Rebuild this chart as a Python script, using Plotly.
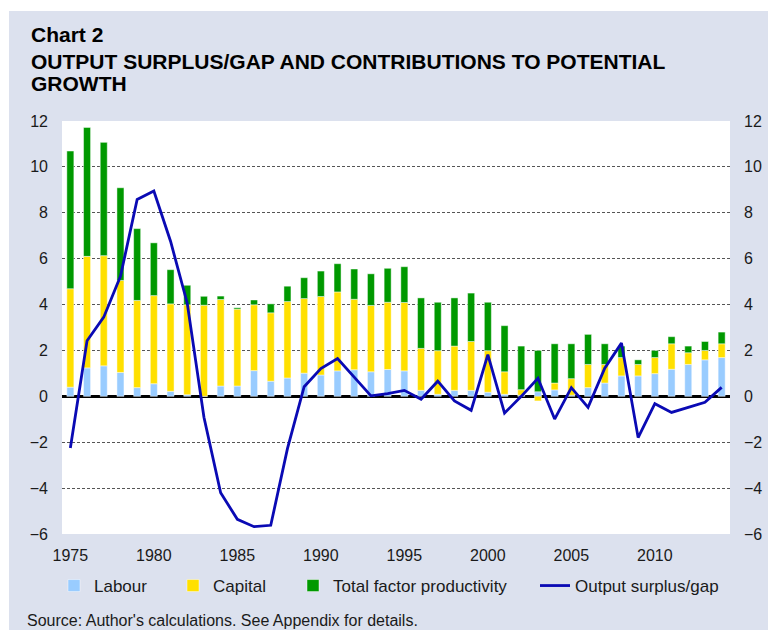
import plotly.graph_objects as go

years = list(range(1975, 2015))

labour = [0.40, 1.24, 1.33, 1.04, 0.38, 0.55, 0.22, 0.07, 0.00, 0.45,
          0.45, 1.12, 0.66, 0.80, 1.01, 0.93, 1.11, 1.16, 1.07, 1.17,
          1.11, 0.26, 0.09, 0.26, 0.26, 0.18, 0.09, 0.05, 0.20, 0.28,
          0.05, 0.38, 0.58, 0.89, 0.89, 0.99, 1.18, 1.39, 1.59, 1.69]

capital = [4.29, 4.86, 4.80, 4.01, 3.80, 3.84, 3.81, 3.92, 3.97, 3.77,
           3.35, 2.87, 2.98, 3.33, 3.25, 3.42, 3.44, 3.07, 2.89, 2.93,
           2.98, 1.83, 1.90, 1.93, 2.13, 1.81, 0.98, 0.24, -0.20, 0.30,
           0.72, 1.01, 0.81, 0.80, 0.50, 0.70, 1.11, 0.51, 0.41, 0.60]

tfp = [6.00, 5.62, 4.94, 4.04, 3.13, 2.30, 1.49, 0.85, 0.39, 0.15,
       0.06, 0.21, 0.39, 0.67, 0.91, 1.11, 1.23, 1.32, 1.38, 1.48,
       1.56, 2.20, 2.11, 2.10, 2.11, 2.11, 2.01, 1.90, 1.80, 1.71,
       1.52, 1.31, 0.90, 0.50, 0.20, 0.31, 0.31, 0.29, 0.39, 0.51]

output_gap = [-2.25, 2.42, 3.45, 5.23, 8.58, 8.95, 6.76, 4.06, -0.91, -4.20,
              -5.36, -5.68, -5.62, -2.28, 0.42, 1.21, 1.65, 0.85, 0.02, 0.12,
              0.26, -0.13, 0.66, -0.20, -0.61, 1.82, -0.73, 0.00, 0.79, -0.99,
              0.38, -0.48, 1.23, 2.32, -1.80, -0.32, -0.70, -0.48, -0.26, 0.39]

xticks = [1975, 1980, 1985, 1990, 1995, 2000, 2005, 2010]
yticks = [-6, -4, -2, 0, 2, 4, 6, 8, 10, 12]

FONT = "Liberation Sans, Arial, sans-serif"
BG = "#DCE1EE"
TXT = "#1a1a1a"

W, H = 776, 630
OFF = 8  # page body margin
L, R, T, B = 54, 54, 113, 104
PW, PH = W - L - R, H - T - B


def fx(px):
    """screen x (px) -> paper x"""
    return (px - OFF - L) / PW


def fy(py):
    """screen y (px) -> paper y"""
    return (H - B - (py - OFF)) / PH


fig = go.Figure()
fig.add_trace(go.Bar(x=years, y=labour, name="Labour", marker_color="#99CCFF",
                     marker_line=dict(color="rgba(255,255,255,0.45)", width=1),
                     legend="legend"))
fig.add_trace(go.Bar(x=years, y=capital, name="Capital", marker_color="#FFE000",
                     marker_line=dict(color="rgba(255,255,255,0.45)", width=1),
                     legend="legend2"))
fig.add_trace(go.Bar(x=years, y=tfp, name="Total factor productivity", marker_color="#009900",
                     marker_line=dict(color="rgba(255,255,255,0.45)", width=1),
                     legend="legend3"))
fig.add_trace(go.Scatter(x=years, y=output_gap, name="Output surplus/gap", mode="lines",
                         line=dict(color="#0A0AB4", width=2.8), legend="legend4"))
# invisible trace to activate right axis
fig.add_trace(go.Scatter(x=[years[0]], y=[0], yaxis="y2", showlegend=False,
                         mode="markers", marker=dict(opacity=0), hoverinfo="skip"))

axis_font = dict(family=FONT, size=16, color=TXT)

leg_common = dict(orientation="h", yanchor="middle", xanchor="left",
                  bgcolor="rgba(0,0,0,0)", font=dict(family=FONT, size=17, color=TXT),
                  y=fy(586))

title_font = dict(family=FONT, size=21, color="black")

fig.update_layout(
    width=W, height=H,
    margin=dict(l=L, r=R, t=T, b=B, pad=0),
    paper_bgcolor=BG,
    plot_bgcolor="white",
    barmode="relative",
    bargap=0.58,
    font=dict(family=FONT, size=16, color=TXT),
    xaxis=dict(range=[1974.5, 2014.5], tickvals=xticks, ticktext=[str(v) for v in xticks],
               showgrid=False, zeroline=False, showline=False, ticks="",
               tickfont=axis_font, ticklabelstandoff=10),
    yaxis=dict(range=[-6, 12], tickvals=yticks, showgrid=True, gridcolor="#555555",
               gridwidth=1, griddash="3px,2px", zeroline=True, zerolinecolor="black",
               zerolinewidth=3, showline=False, ticks="", tickfont=axis_font,
               ticklabelstandoff=13),
    yaxis2=dict(range=[-6, 12], tickvals=yticks, overlaying="y", side="right",
                showgrid=False, zeroline=False, showline=False, ticks="",
                tickfont=axis_font, ticklabelstandoff=13),
    showlegend=True,
    legend=dict(leg_common, x=fx(54)),
    legend2=dict(leg_common, x=fx(173)),
    legend3=dict(leg_common, x=fx(293)),
    legend4=dict(leg_common, x=fx(535)),
    shapes=[
        dict(type="rect", xref="paper", yref="paper", layer="above",
             x0=fx(0), x1=fx(800), y0=fy(11), y1=fy(0),
             fillcolor="white", line=dict(width=0)),
        dict(type="rect", xref="paper", yref="paper", layer="above",
             x0=fx(0), x1=fx(9), y0=fy(700), y1=fy(0),
             fillcolor="white", line=dict(width=0)),
    ],
    annotations=[
        dict(text="<b>Chart 2</b>", xref="paper", yref="paper", x=fx(29), y=fy(34.5),
             xanchor="left", yanchor="middle", align="left", showarrow=False, font=title_font),
        dict(text="<b>OUTPUT SURPLUS/GAP AND CONTRIBUTIONS TO POTENTIAL</b>",
             xref="paper", yref="paper", x=fx(29), y=fy(61), xanchor="left", yanchor="middle",
             align="left", showarrow=False, font=title_font),
        dict(text="<b>GROWTH</b>", xref="paper", yref="paper", x=fx(29), y=fy(83.5),
             xanchor="left", yanchor="middle", align="left", showarrow=False, font=title_font),
        dict(text="Source: Author's calculations. See Appendix for details.",
             xref="paper", yref="paper", x=fx(25), y=fy(620), xanchor="left", yanchor="middle",
             align="left", showarrow=False, font=dict(family=FONT, size=16, color=TXT)),
    ],
)

fig.write_html("out.html")
